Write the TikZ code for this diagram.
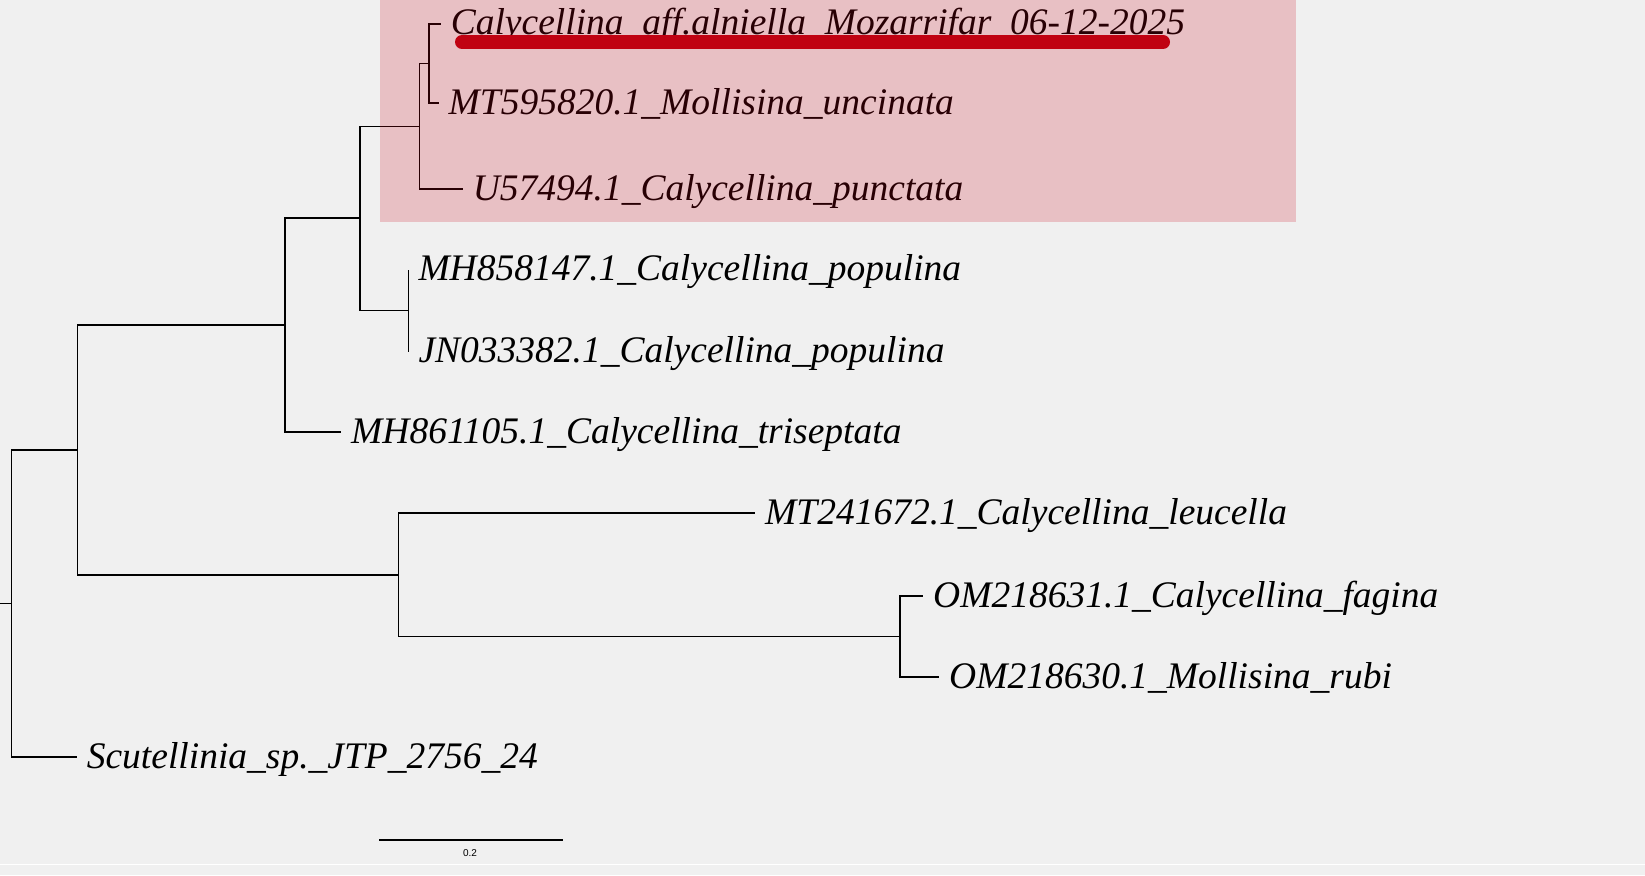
\documentclass[tikz,border=0pt]{standalone}
\usepackage{fontspec}
\setmainfont{Liberation Serif}
\newfontfamily\barfont{Liberation Sans}
\usepackage{tikz}

\definecolor{paper}{RGB}{240,240,240}
\definecolor{cladered}{RGB}{200,0,20}
\definecolor{markred}{RGB}{192,2,18}
\newcommand{\taxafont}{\fontsize{37.5}{40}\selectfont\itshape}

\tikzset{
	branch/.style={draw=black, line width=1.2pt},
	taxon/.style={anchor=west, inner xsep=10pt, inner ysep=0pt, text height=22pt, text depth=0pt, font=\taxafont},
}

\begin{document}
\begin{tikzpicture}[x=1pt, y=-1pt]
	\fill [paper] (0,0) rectangle (1645,875);
	\useasboundingbox (0,0) rectangle (1645,875);
	\draw [white, line width=1.5pt] (0,864.5) -- (1645,864.5);

	% Inner nodes {root, A, B, C, D, E, F, G, H}
	\coordinate (stub) at (0,603.5);
	\coordinate (root) at (11.5,603.5);
	\coordinate (nA)   at (77.6,450);
	\coordinate (nB)   at (285,325);
	\coordinate (nC)   at (360,218);
	\coordinate (nD)   at (408.3,310.5);
	\coordinate (nE)   at (419.6,126.5);
	\coordinate (nF)   at (429,63.5);
	\coordinate (nG)   at (398.6,575);
	\coordinate (nH)   at (900,636.5);

	% Leaves
	\node [taxon] (calaff) at (440.6,24)  {Calycellina\_aff.alniella\_Mozarrifar\_06-12-2025};
	\node [taxon] (mt595)  at (438.5,103) {MT595820.1\_Mollisina\_uncinata};
	\node [taxon] (u574)   at (462.6,189) {U57494.1\_Calycellina\_punctata};
	\node [taxon] (mh858)  at (408.3,269.5) {MH858147.1\_Calycellina\_populina};
	\node [taxon] (jn033)  at (408.3,351.5) {JN033382.1\_Calycellina\_populina};
	\node [taxon] (mh861)  at (341,432)   {MH861105.1\_Calycellina\_triseptata};
	\node [taxon] (mt241)  at (755,513)   {MT241672.1\_Calycellina\_leucella};
	\node [taxon] (om631)  at (923,596)   {OM218631.1\_Calycellina\_fagina};
	\node [taxon] (om630)  at (939,677)   {OM218630.1\_Mollisina\_rubi};
	\node [taxon] (scut)   at (76.6,757)  {Scutellinia\_sp.\_JTP\_2756\_24};

	% Branches
	\path [branch] (stub) -- (root);
	\path [branch] (root) |- (nA);
	\path [branch] (root) |- (scut.west);
	\path [branch] (nA) |- (nB);
	\path [branch] (nA) |- (nG);
	\path [branch] (nB) |- (nC);
	\path [branch] (nB) |- (mh861.west);
	\path [branch] (nC) |- (nE);
	\path [branch] (nC) |- (nD);
	\path [branch] (nD) |- (mh858.west);
	\path [branch] (nD) |- (jn033.west);
	\path [branch] (nE) |- (nF);
	\path [branch] (nE) |- (u574.west);
	\path [branch] (nF) |- (calaff.west);
	\path [branch] (nF) |- (mt595.west);
	\path [branch] (nG) |- (mt241.west);
	\path [branch] (nG) |- (nH);
	\path [branch] (nH) |- (om631.west);
	\path [branch] (nH) |- (om630.west);

	% Highlighted clade
	\fill [cladered, opacity=0.2] (380,0) rectangle (1296,221.5);
	\draw [markred, line width=14pt, line cap=round] (462,42) -- (1163,42);

	% Scale bar
	\coordinate (sbl) at (379,840);
	\coordinate (sbr) at (563,840);
	\draw [black, line width=1.2pt] (sbl) -- (sbr);
	\node [font=\barfont\fontsize{10}{12}\selectfont] (sblabel) at (470,853) {0.2};
\end{tikzpicture}
\end{document}
